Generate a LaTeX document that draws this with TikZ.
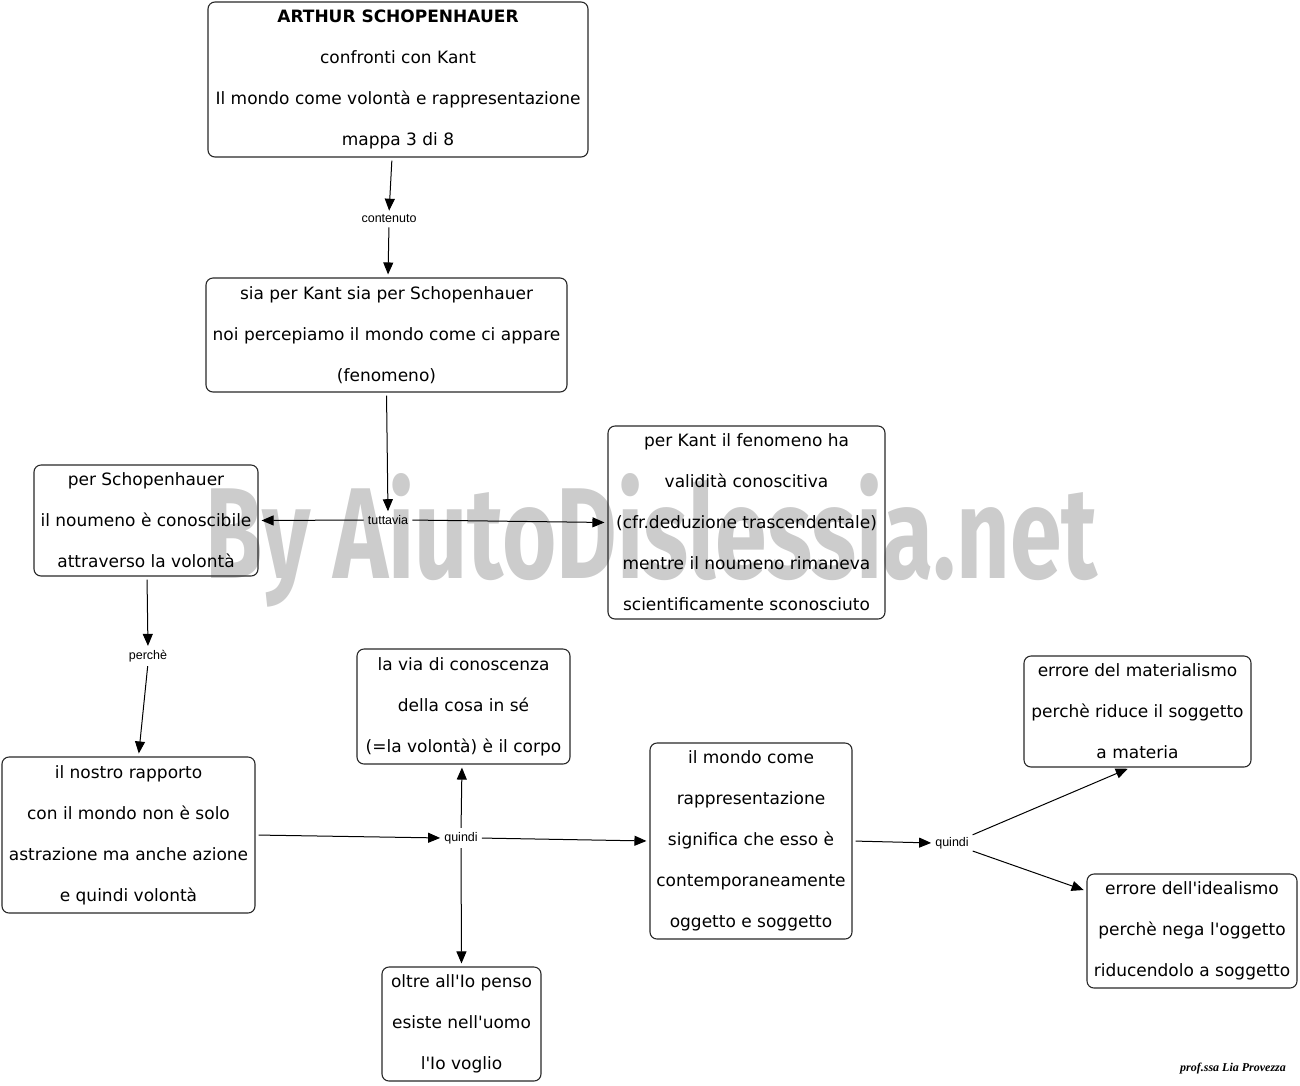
\documentclass[tikz,border=0pt]{standalone}
\usepackage{fontspec}
\setmainfont{DejaVu Sans}
\newfontfamily\lblfont{Liberation Sans}
\newfontfamily\wmfont{Fira Sans}
\newfontfamily\sigfont{Liberation Serif}
\usetikzlibrary{arrows.meta,calc}
\definecolor{wmgray}{RGB}{204,204,204}
\definecolor{boxline}{RGB}{40,40,40}
\newcommand{\apo}{\textquotesingle}
\begin{document}
\begin{tikzpicture}[x=1pt,y=-1pt,
  box/.style={draw=boxline,line width=1.1pt,rounded corners=7pt,align=center,inner sep=0pt,font=\fontsize{17}{41}\selectfont},
  lbl/.style={font=\lblfont\fontsize{12.5}{14}\selectfont,inner sep=1pt},
  conn/.style={line width=1pt,shorten <=3pt,shorten >=3pt,-{Triangle[length=12pt,width=10pt]}}]
\useasboundingbox (0,0) rectangle (1300,1085);
% watermark
\node[anchor=base west,text=wmgray,inner sep=0pt] (wm) at (205,578) {\resizebox{892pt}{105pt}{\wmfont\bfseries By AiutoDislessia.net}};
% boxes
\node[box,minimum width=380pt,minimum height=155pt] (title) at (398,79.5)
  {\textbf{ARTHUR SCHOPENHAUER}\\confronti con Kant\\Il mondo come volontà e rappresentazione\\mappa 3 di 8};
\node[box,minimum width=361pt,minimum height=114pt] (box2) at (386.5,335)
  {sia per Kant sia per Schopenhauer\\noi percepiamo il mondo come ci appare\\(fenomeno)};
\node[box,minimum width=224pt,minimum height=111pt] (left) at (146,520.5)
  {per Schopenhauer\\il noumeno è conoscibile\\attraverso la volontà};
\node[box,minimum width=277pt,minimum height=193pt] (kant) at (746.5,522.5)
  {per Kant il fenomeno ha\\validità conoscitiva\\(cfr.deduzione trascendentale)\\mentre il noumeno rimaneva\\scientificamente sconosciuto};
\node[box,minimum width=253pt,minimum height=156pt] (box5) at (128.5,835)
  {il nostro rapporto\\con il mondo non è solo\\astrazione ma anche azione\\e quindi volontà};
\node[box,minimum width=213pt,minimum height=115pt] (box6) at (463.5,706.5)
  {la via di conoscenza\\della cosa in sé\\(=la volontà) è il corpo};
\node[box,minimum width=202pt,minimum height=196pt] (box7) at (751,841)
  {il mondo come\\rappresentazione\\significa che esso è\\contemporaneamente\\oggetto e soggetto};
\node[box,minimum width=227pt,minimum height=111pt] (box8) at (1137.5,711.5)
  {errore del materialismo\\perchè riduce il soggetto\\a materia};
\node[box,minimum width=210pt,minimum height=114pt] (box9) at (1192,931)
  {errore dell\apo idealismo\\perchè nega l\apo oggetto\\riducendolo a soggetto};
\node[box,minimum width=159pt,minimum height=114pt] (box10) at (461.5,1024)
  {oltre all\apo Io penso\\esiste nell\apo uomo\\l\apo Io voglio};
% labels
\node[lbl] (l1) at (389,219) {contenuto};
\node[lbl] (l2) at (388,520) {tuttavia};
\node[lbl] (l3) at (148,656) {perchè};
\node[lbl] (l4) at (461,838) {quindi};
\node[lbl] (l5) at (952,843) {quindi};
% connectors
\draw[conn] ([xshift=-6pt]title.south) -- (l1.north);
\draw[conn] (l1.south) -- ([xshift=1.5pt]box2.north);
\draw[conn] (box2.south) -- (l2.north);
\draw[conn] (l2.west) -- (left.east);
\draw[conn] (l2.east) -- (kant.west);
\draw[conn] ([xshift=1pt]left.south) -- (l3.north);
\draw[conn] (l3.south) -- ([xshift=10pt]box5.north);
\draw[conn] (box5.east) -- (l4.west);
\draw[conn] (l4.east) -- (box7.west);
\draw[conn] (l4.north) -- ([xshift=-1.5pt]box6.south);
\draw[conn] (l4.south) -- (box10.north);
\draw[conn] (box7.east) -- (l5.west);
\draw[conn] (l5.north east) -- ([xshift=-7pt]box8.south);
\draw[conn] (l5.south east) -- ([yshift=40pt]box9.west);
% signature
\node[font=\sigfont\bfseries\itshape\fontsize{12}{14}\selectfont,inner sep=0pt] (sig) at (1233,1069) {prof.ssa Lia Provezza};
\end{tikzpicture}
\end{document}
